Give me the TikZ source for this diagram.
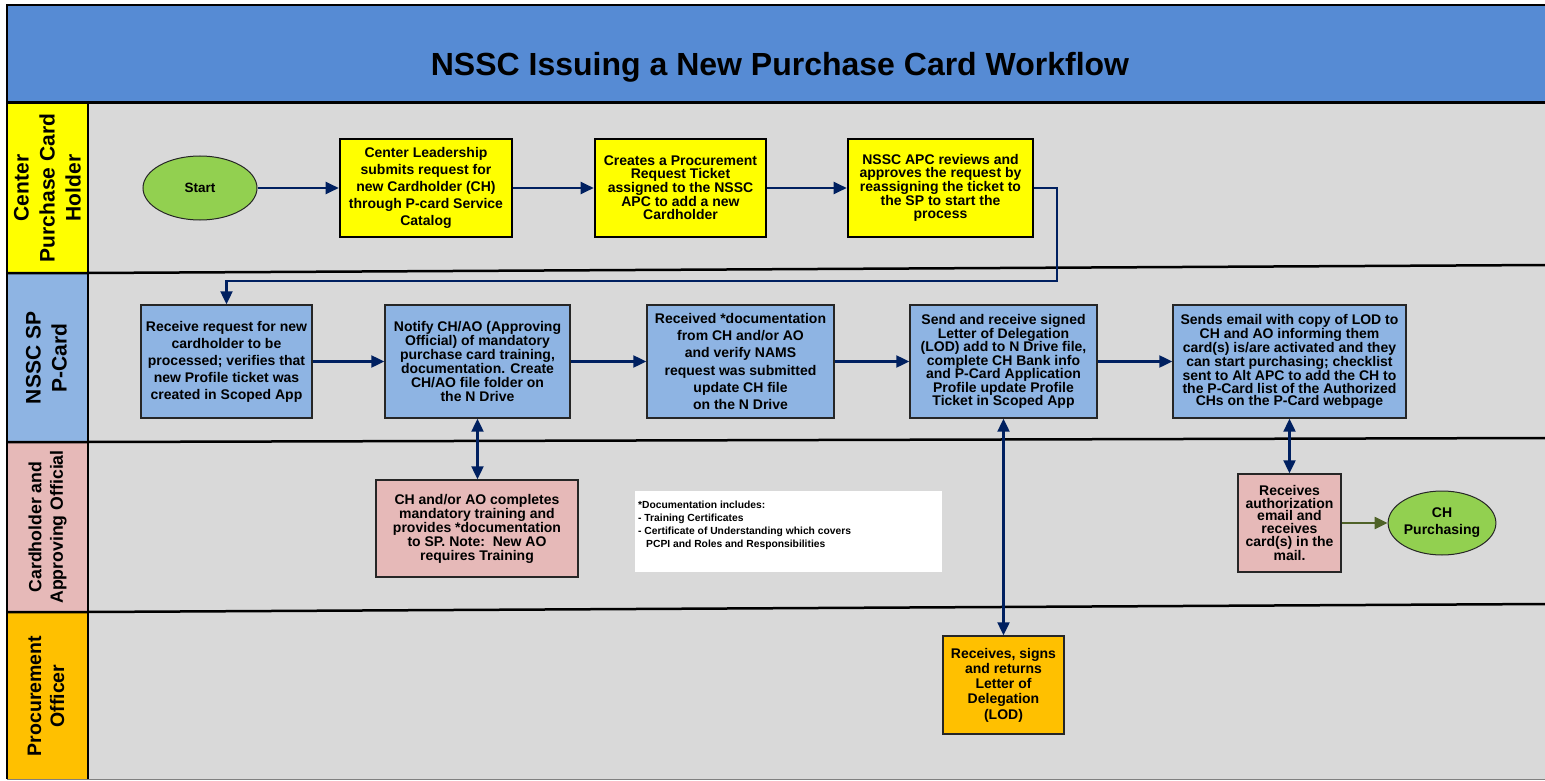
\documentclass[tikz,border=0pt]{standalone}
\usepackage{fontspec}
\setmainfont{Liberation Sans}
\usetikzlibrary{arrows.meta,shapes.geometric}
\definecolor{ctitle}{RGB}{86,139,212}
\definecolor{cgrey}{RGB}{217,217,217}
\definecolor{cyel}{RGB}{255,255,0}
\definecolor{cblue}{RGB}{142,180,227}
\definecolor{cpink}{RGB}{230,185,184}
\definecolor{corange}{RGB}{255,192,0}
\definecolor{cgreen}{RGB}{146,208,80}
\definecolor{cnavy}{RGB}{0,32,96}
\definecolor{colive}{RGB}{79,98,40}
\definecolor{bdr}{RGB}{38,38,38}
\newcommand{\fsz}[2]{\fontsize{#1}{#2}\selectfont}
\begin{document}
\begin{tikzpicture}[x=1pt,y=-1pt,
  base/.style={align=center, inner sep=0pt},
  ybox/.style={base, draw=black, line width=2.6pt, fill=cyel},
  bbox/.style={base, draw=bdr, line width=1.4pt, fill=cblue},
  pbox/.style={base, draw=bdr, line width=1.4pt, fill=cpink},
  obox/.style={base, draw=bdr, line width=1.4pt, fill=corange},
  term/.style={base, ellipse, draw=bdr, line width=1pt, fill=cgreen},
  tipA/.tip={Triangle[length=13pt,width=12pt]},
  arr/.style={draw=cnavy, line width=2.2pt, -tipA},
  darr/.style={draw=cnavy, line width=2.2pt, tipA-tipA},
  garr/.style={draw=colive, line width=2.2pt, -tipA},
  laneline/.style={draw=black, line width=2.5pt},
  lanelbl/.style={rotate=90, align=center, inner sep=0pt}
]
\useasboundingbox (0,0) rectangle (1545,781);
\clip (0,0) rectangle (1545,781);
% backgrounds
\fill[white] (0,0) rectangle (1545,781);
\fill[ctitle] (7,5) rectangle (1547,103);
\fill[cgrey] (88,103) rectangle (1547,779);
\fill[cyel] (7,103) rectangle (88,273);
\fill[cblue] (7,273) rectangle (88,442);
\fill[cpink] (7,442) rectangle (88,612);
\fill[corange] (7,612) rectangle (88,779);
% frame and lane lines
\draw[black, line width=2pt] (7,779) -- (7,5) -- (1547,5);
\draw[laneline] (7,102.5) -- (1547,102.5);
\draw[laneline] (88,103) -- (88,779);
\draw[laneline] (7,273) -- (88,273) -- (1547,265);
\draw[laneline] (7,442) -- (88,442) -- (1547,438);
\draw[laneline] (7,612) -- (88,612) -- (1547,604);
\draw[gray, line width=1pt] (7,779) -- (1547,779);
% title
\node[base, font=\fsz{32}{36}\bfseries] (title) at (780,67) {NSSC Issuing a New Purchase Card Workflow};
% lane labels
\node[lanelbl, font=\fsz{21}{26}\bfseries] (L1) at (47.5,188) {Center\\Purchase Card\\Holder};
\node[lanelbl, font=\fsz{21}{26}\bfseries] (L2) at (46.5,358) {NSSC SP\\P-Card};
\node[lanelbl, font=\fsz{17.7}{21.5}\bfseries] (L3) at (47.5,527) {Cardholder and\\Approving Official};
\node[lanelbl, font=\fsz{19.5}{23}\bfseries] (L4) at (46,696) {Procurement\\Officer};
% lane 1
\node[term, minimum width=114pt, minimum height=64pt, font=\fsz{13.5}{16}\bfseries] (start) at (200,188) {Start};
\node[ybox, minimum width=172pt, minimum height=98pt, font=\fsz{14}{17}\bfseries] (A) at (426,188)
  {Center Leadership\\submits request for\\new Cardholder (CH)\\through P-card Service\\Catalog};
\node[ybox, minimum width=171pt, minimum height=98pt, font=\fsz{14}{13}\bfseries] (B) at (680.5,188)
  {Creates a Procurement\\Request Ticket\\assigned to the NSSC\\APC to add a new\\Cardholder};
\node[ybox, minimum width=185pt, minimum height=98pt, font=\fsz{14}{13}\bfseries] (C) at (940.5,188)
  {NSSC APC reviews and\\approves the request by\\reassigning the ticket to\\the SP to start the\\process};
% lane 2
\node[bbox, minimum width=171pt, minimum height=113pt, font=\fsz{14}{17}\bfseries] (D) at (226.5,361.5)
  {Receive request for new\\cardholder to be\\processed; verifies that\\new Profile ticket was\\created in Scoped App};
\node[bbox, minimum width=185pt, minimum height=113pt, font=\fsz{14}{14}\bfseries] (E) at (477.5,361.5)
  {Notify CH/AO (Approving\\Official) of mandatory\\purchase card training,\\documentation. Create\\CH/AO file folder on\\the N Drive};
\node[bbox, minimum width=187pt, minimum height=113pt, font=\fsz{14}{17.2}\bfseries] (F) at (740.5,361.5)
  {Received *documentation\\from CH and/or AO\\and verify NAMS\\request was submitted\\update CH file\\on the N Drive};
\node[bbox, minimum width=187pt, minimum height=113pt, font=\fsz{14}{13.5}\bfseries] (G) at (1003.5,361.5)
  {Send and receive signed\\Letter of Delegation\\(LOD) add to N Drive file,\\complete CH Bank info\\and P-Card Application\\Profile update Profile\\Ticket in Scoped App};
\node[bbox, minimum width=233pt, minimum height=113pt, font=\fsz{14}{12.7}\bfseries] (H) at (1289.5,361.5)
  {Sends email with copy of LOD to\\CH and AO informing them\\card(s) is/are activated and they\\can start purchasing; checklist\\sent to Alt APC to add the CH to\\the P-Card list of the Authorized\\CHs on the P-Card webpage};
% lane 3
\node[pbox, minimum width=202pt, minimum height=97pt, font=\fsz{14}{14}\bfseries] (I) at (477,528.5)
  {CH and/or AO completes\\mandatory training and\\provides *documentation\\to SP. Note:\ \ New AO\\requires Training};
\fill[white] (635,491) rectangle (942,572);
\node[base, align=left, anchor=north west, font=\fsz{10.3}{12.8}\bfseries] (note) at (638,501)
  {*Documentation includes:\\- Training Certificates\\- Certificate of Understanding which covers\\\hspace*{8pt}PCPI and Roles and Responsibilities};
\node[pbox, minimum width=103pt, minimum height=98pt, font=\fsz{14}{12.8}\bfseries] (J) at (1289.5,523)
  {Receives\\authorization\\email and\\receives\\card(s) in the\\mail.};
\node[term, minimum width=96pt, minimum height=64pt, font=\fsz{14}{17}\bfseries] (CHP) at (1442,523) {CH\\Purchasing};
% lane 4
\node[obox, minimum width=121pt, minimum height=98pt, font=\fsz{14}{15.3}\bfseries] (K) at (1003.5,685)
  {Receives, signs\\and returns\\Letter of\\Delegation\\(LOD)};
% connectors
\coordinate (t1) at (1057,281);
\draw[arr] (start) -- (A);
\draw[arr] (A) -- (B);
\draw[arr] (B) -- (C);
\draw[arr] (C.east) -| (t1) -| (D.north);
\draw[arr] (D) -- (E);
\draw[arr] (E) -- (F);
\draw[arr] (F) -- (G);
\draw[arr] (G) -- (H);
\draw[darr] (E.south) -- (E.south |- I.north);
\draw[darr] (G.south) -- (G.south |- K.north);
\draw[darr] (H.south) -- (H.south |- J.north);
\draw[garr] (J) -- (CHP);
\end{tikzpicture}
\end{document}
